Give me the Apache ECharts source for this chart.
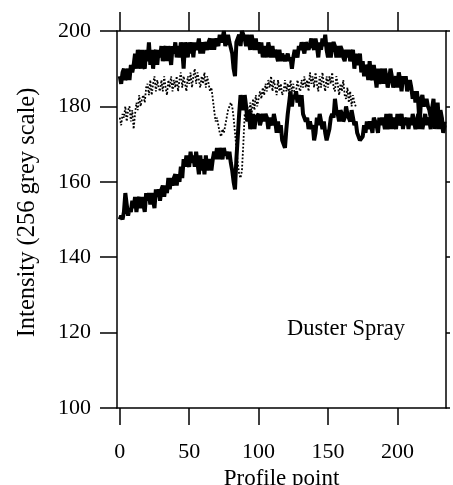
<!DOCTYPE html>
<html>
<head>
<meta charset="utf-8">
<script src="https://cdn.jsdelivr.net/npm/echarts@6/dist/echarts.min.js"></script>
<style>
html,body{margin:0;padding:0;background:#fff;}
#chart{width:453px;height:485px;}
</style>
</head>
<body>
<div id="chart"></div>
<script>
// Profile point = array index (0, 1, 2, ...)
const topSeries = [
188,186,189,190,187,188,190,187,191,189,
191,194,190,195,192,190,195,191,190,195,
192,197,191,195,190,194,195,191,195,193,
196,192,195,196,192,196,194,191,196,194,
197,193,196,193,197,195,190,197,195,193,
197,194,197,193,197,195,196,198,194,197,
194,197,197,195,197,198,195,198,195,198,
198,196,199,197,198,200,196,196,199,197,
197,194,190,188,197,198,199,196,200,199,
198,196,199,197,195,199,197,195,198,195,
197,194,197,193,196,195,193,197,195,193,
196,193,195,195,192,195,192,194,194,192,
193,194,192,193,190,193,195,195,193,196,
195,197,197,194,197,197,195,195,198,196,
195,198,196,193,197,195,198,196,199,195,
193,197,193,196,197,196,193,196,193,196,
195,193,192,195,193,195,192,192,195,190,
194,191,191,194,189,192,188,191,190,187,
192,188,187,191,188,185,190,186,188,190,
186,190,188,185,187,190,188,185,185,188,
185,189,187,184,188,186,188,184,184,187,
185,182,184,181,184,181,175,182,183,180,
181,182,180,179,177,177,182,174,178,181,
175,179,177,174,176
];
const dottedSeries = [
177,175,178,177,180,176,179,180,176,179,
174,178,181,179,183,180,182,183,181,185,
186,183,187,183,186,188,184,187,185,184,
187,184,188,185,183,187,185,188,184,187,
185,188,184,187,189,185,188,186,184,188,
186,189,185,188,190,186,189,187,185,188,
186,189,185,188,186,184,185,182,179,176,
177,175,173,172,174,173,175,177,179,180,
181,180,177,173,169,165,162,161,163,170,
178,176,180,177,181,178,182,179,183,180,
182,184,182,185,183,186,184,187,185,188,
184,187,185,183,187,184,186,183,184,187,
184,186,183,187,184,186,183,184,187,185,
184,187,185,188,185,187,184,189,186,188,
185,189,186,184,188,185,189,186,184,188,
185,188,186,189,185,184,188,186,183,186,
184,187,183,182,185,181,184,180,183,181,
180
];
const bottomSeries = [
150,151,150,152,157,154,151,153,152,155,
153,156,152,155,156,153,156,154,152,157,
155,157,154,157,155,153,158,156,158,155,
158,159,156,159,157,161,158,161,159,161,
162,159,162,160,164,161,166,164,167,165,
164,168,165,167,164,168,165,162,167,163,
166,162,167,163,165,166,163,166,168,166,
169,166,169,167,166,169,167,168,166,168,
165,163,160,158,166,172,178,183,181,179,
183,180,176,179,174,176,178,174,177,177,
178,175,175,178,176,178,177,174,177,177,
175,178,176,173,176,173,175,171,170,169,
174,178,181,184,180,183,182,184,181,183,
180,183,178,178,176,177,174,176,174,175,
171,173,177,175,178,176,174,176,173,171,
171,174,177,178,177,182,179,178,176,179,
178,176,177,180,178,177,176,179,177,175,
176,173,173,171,171,172,175,173,176,174,
176,175,173,177,177,175,173,177,175,177,
176,174,178,174,176,178,174,177,176,174,
178,175,176,178,174,177,175,177,174,177,
175,178,176,174,176,178,174,177,174,176,
178,175,177,176,174,177,178,175,177,179,
174,178,176,173,175
];
const xTicks = [0, 50, 100, 150, 200];
const xName = 'Profile point';
const yName = 'Intensity (256 grey scale)';
const panelLabel = 'Duster Spray';

const FONT = '"Liberation Serif", "DejaVu Serif", serif';
const toPairs = arr => arr.map((v, i) => [i, v]);

const chart = echarts.init(document.getElementById('chart'), null, {renderer: 'canvas'});
const lineCol = '#000';
chart.setOption({
  animation: false,
  backgroundColor: '#fff',
  grid: {left: 117, right: 7, top: 31, bottom: 77, containLabel: false, outerBoundsMode: 'none'},
  xAxis: [{
    type: 'value', position: 'bottom', min: -2, max: 235,
    name: xName, nameLocation: 'middle', nameGap: 51,
    nameTextStyle: {fontFamily: FONT, fontSize: 23, color: '#000'},
    axisLine: {show: true, onZero: false, lineStyle: {color: lineCol, width: 1.5}},
    axisTick: {show: true, customValues: xTicks, length: 17, lineStyle: {color: lineCol, width: 1.5}},
    axisLabel: {customValues: xTicks, fontFamily: FONT, fontSize: 22, color: '#000', margin: 33},
    splitLine: {show: false}
  }, {
    type: 'value', position: 'top', min: -2, max: 235,
    axisLine: {show: true, onZero: false, lineStyle: {color: lineCol, width: 1.5}},
    axisTick: {show: true, customValues: xTicks, length: 19, lineStyle: {color: lineCol, width: 1.5}},
    axisLabel: {show: false},
    splitLine: {show: false}
  }],
  yAxis: [{
    type: 'value', position: 'left', min: 100, max: 200, interval: 20,
    name: yName, nameLocation: 'middle', nameGap: 77,
    nameTextStyle: {fontFamily: FONT, fontSize: 24.5, color: '#000', padding: [0, 0, 0, 14]},
    axisLine: {show: true, onZero: false, lineStyle: {color: lineCol, width: 1.5}},
    axisTick: {show: true, length: 17, lineStyle: {color: lineCol, width: 1.5}},
    axisLabel: {fontFamily: FONT, fontSize: 22, color: '#000', margin: 26},
    splitLine: {show: false}
  }, {
    type: 'value', position: 'right', min: 100, max: 200, interval: 20,
    axisLine: {show: true, onZero: false, lineStyle: {color: lineCol, width: 1.5}},
    axisTick: {show: true, length: 4, lineStyle: {color: lineCol, width: 1.5}},
    axisLabel: {show: false},
    splitLine: {show: false}
  }],
  graphic: [{
    type: 'text', left: 287, top: 318,
    style: {text: panelLabel, font: '22.5px ' + FONT, fill: '#000'}
  }],
  series: [{
    type: 'line', data: toPairs(topSeries), showSymbol: false,
    lineStyle: {color: '#000', width: 4}
  }, {
    type: 'line', data: toPairs(dottedSeries), showSymbol: false,
    lineStyle: {color: '#000', width: 1.8, type: 'dotted'}
  }, {
    type: 'line', data: toPairs(bottomSeries), showSymbol: false,
    lineStyle: {color: '#000', width: 4}
  }]
});
</script>
</body>
</html>
